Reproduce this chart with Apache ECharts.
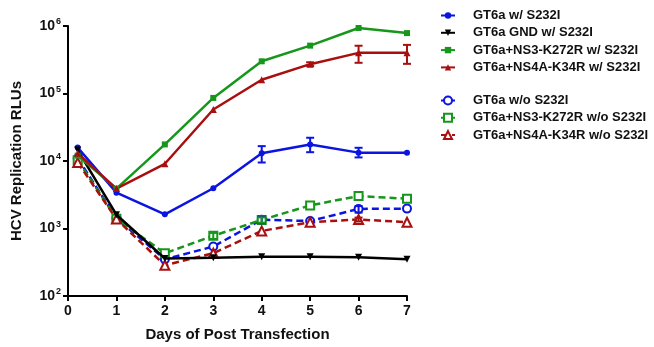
<!DOCTYPE html>
<html>
<head>
<meta charset="utf-8">
<script src="https://cdn.jsdelivr.net/npm/echarts@6/dist/echarts.min.js"></script>
<style>html,body{margin:0;padding:0;background:#fff}#c{width:654px;height:347px}</style>
</head>
<body>
<div id="c"></div>
<script>
const days = [0.2, 1, 2, 3, 4, 5, 6, 7];
const names = [
  'GT6a w/ S232I',
  'GT6a GND w/ S232I',
  'GT6a+NS3-K272R w/ S232I',
  'GT6a+NS4A-K34R w/ S232I',
  'GT6a w/o S232I',
  'GT6a+NS3-K272R w/o S232I',
  'GT6a+NS4A-K34R w/o S232I'
];
const gt6aWith      = [15800, 3400, 1620, 3950, 13000, 17600, 13300, 13300];
const gndWith       = [14500, 1600, 360, 370, 380, 380, 375, 350];
const ns3With       = [12000, 3900, 17600, 86000, 300000, 512000, 935000, 785000];
const ns4aWith      = [13000, 3900, 9100, 58000, 160000, 272000, 400000, 400000];
const gt6aWithout   = [11000, 1420, 350, 540, 1350, 1290, 1950, 1970];
const ns3Without    = [10300, 1400, 430, 780, 1340, 2200, 3030, 2760];
const ns4aWithout   = [9500, 1380, 285, 430, 920, 1240, 1360, 1240];

// error bars: [day, low, high]
const errGt6aWith = [[4, 9500, 16600], [5, 13500, 22100], [6, 11300, 15700]];
const errNs4aWith = [[5, 255000, 290000], [6, 285000, 510000], [7, 275000, 525000]];
const errGt6aWithout = [[4, 1200, 1500], [6, 1720, 2150]];
const errNs3Without = [[3, 700, 860], [4, 1220, 1460]];
const errNs4aWithout = [[6, 1270, 1450]];

const yTickExponents = [2, 3, 4, 5, 6];

const BLUE = '#0b14e0', BLACK = '#000000', GREEN = '#16961a', RED = '#a80f0f';
const FONT = 'Liberation Sans';

function pts(v) { return days.map((d, i) => [d, v[i]]); }

function lineSeries(name, data, color, symbol, size, dashed, rotate) {
  return {
    name, type: 'line', data: pts(data),
    symbol, symbolSize: size, symbolRotate: rotate || 0,
    lineStyle: { color, width: 2.5, type: dashed ? [7, 4] : 'solid' },
    itemStyle: { color, borderColor: color, borderWidth: dashed ? 2 : 0 },
    emphasis: { disabled: true },
    z: dashed ? 3 : 4
  };
}

function errSeries(data, color) {
  return {
    type: 'custom', data, z: 5, silent: true,
    renderItem(params, api) {
      const x = api.value(0);
      const lo = api.coord([x, api.value(1)]);
      const hi = api.coord([x, api.value(2)]);
      const w = 4;
      const st = { stroke: color, lineWidth: 2 };
      return {
        type: 'group', children: [
          { type: 'line', shape: { x1: lo[0], y1: lo[1], x2: hi[0], y2: hi[1] }, style: st },
          { type: 'line', shape: { x1: lo[0] - w, y1: lo[1], x2: lo[0] + w, y2: lo[1] }, style: st },
          { type: 'line', shape: { x1: hi[0] - w, y1: hi[1], x2: hi[0] + w, y2: hi[1] }, style: st }
        ]
      };
    }
  };
}

const legendText = { fontFamily: FONT, fontWeight: 'bold', fontSize: 13, color: '#111', lineHeight: 13, padding: [0, 0, 0, 13] };

const option = {
  animation: false,
  backgroundColor: '#fff',
  grid: { left: 68, right: 247, top: 26, bottom: 50, containLabel: false },
  legend: [
    { data: names.slice(0, 4), orient: 'vertical', left: 435, top: 4, itemWidth: 14, itemHeight: 8, itemGap: 4.3, textStyle: legendText, selectedMode: false },
    { data: names.slice(4), orient: 'vertical', left: 435, top: 89, itemWidth: 14, itemHeight: 10, itemGap: 4.3, textStyle: legendText, selectedMode: false }
  ],
  xAxis: {
    type: 'value', min: 0, max: 7, interval: 1,
    name: 'Days of Post Transfection', nameLocation: 'middle', nameGap: 31,
    nameTextStyle: { fontFamily: FONT, fontWeight: 'bold', fontSize: 15, color: '#111' },
    axisLine: { lineStyle: { color: '#000', width: 2 } },
    axisTick: { show: true, length: 5, lineStyle: { color: '#000', width: 2 } },
    axisLabel: { fontFamily: FONT, fontWeight: 'bold', fontSize: 14, color: '#111', margin: 8 },
    splitLine: { show: false }
  },
  yAxis: {
    type: 'log', logBase: 10, min: 100, max: 1000000,
    name: 'HCV Replication RLUs', nameLocation: 'middle', nameGap: 44, nameRotate: 90,
    nameTextStyle: { fontFamily: FONT, fontWeight: 'bold', fontSize: 15, color: '#111' },
    axisLine: { show: true, lineStyle: { color: '#000', width: 2 } },
    axisTick: { show: true, length: 5, lineStyle: { color: '#000', width: 2 } },
    axisLabel: {
      margin: 7,
      formatter(v) {
        const e = Math.round(Math.log10(v));
        if (yTickExponents.indexOf(e) < 0) return '';
        return '{b|10}{s|' + e + '}';
      },
      rich: {
        b: { fontFamily: FONT, fontWeight: 'bold', fontSize: 14, color: '#111' },
        s: { fontFamily: FONT, fontWeight: 'bold', fontSize: 9, color: '#111', padding: [0, 0, 8, 1] }
      }
    },
    splitLine: { show: false }
  },
  series: [
    lineSeries(names[0], gt6aWith, BLUE, 'circle', 6, false),
    lineSeries(names[1], gndWith, BLACK, 'triangle', 7, false, 180),
    lineSeries(names[2], ns3With, GREEN, 'rect', 6, false),
    lineSeries(names[3], ns4aWith, RED, 'triangle', 7, false),
    lineSeries(names[4], gt6aWithout, BLUE, 'emptyCircle', 8, true),
    lineSeries(names[5], ns3Without, GREEN, 'emptyRect', 8, true),
    lineSeries(names[6], ns4aWithout, RED, 'emptyTriangle', 9, true),
    errSeries(errGt6aWith, BLUE),
    errSeries(errNs4aWith, RED),
    errSeries(errGt6aWithout, BLUE),
    errSeries(errNs3Without, GREEN),
    errSeries(errNs4aWithout, RED)
  ]
};

const chart = echarts.init(document.getElementById('c'), null, { renderer: 'canvas' });
chart.setOption(option);
</script>
</body>
</html>
